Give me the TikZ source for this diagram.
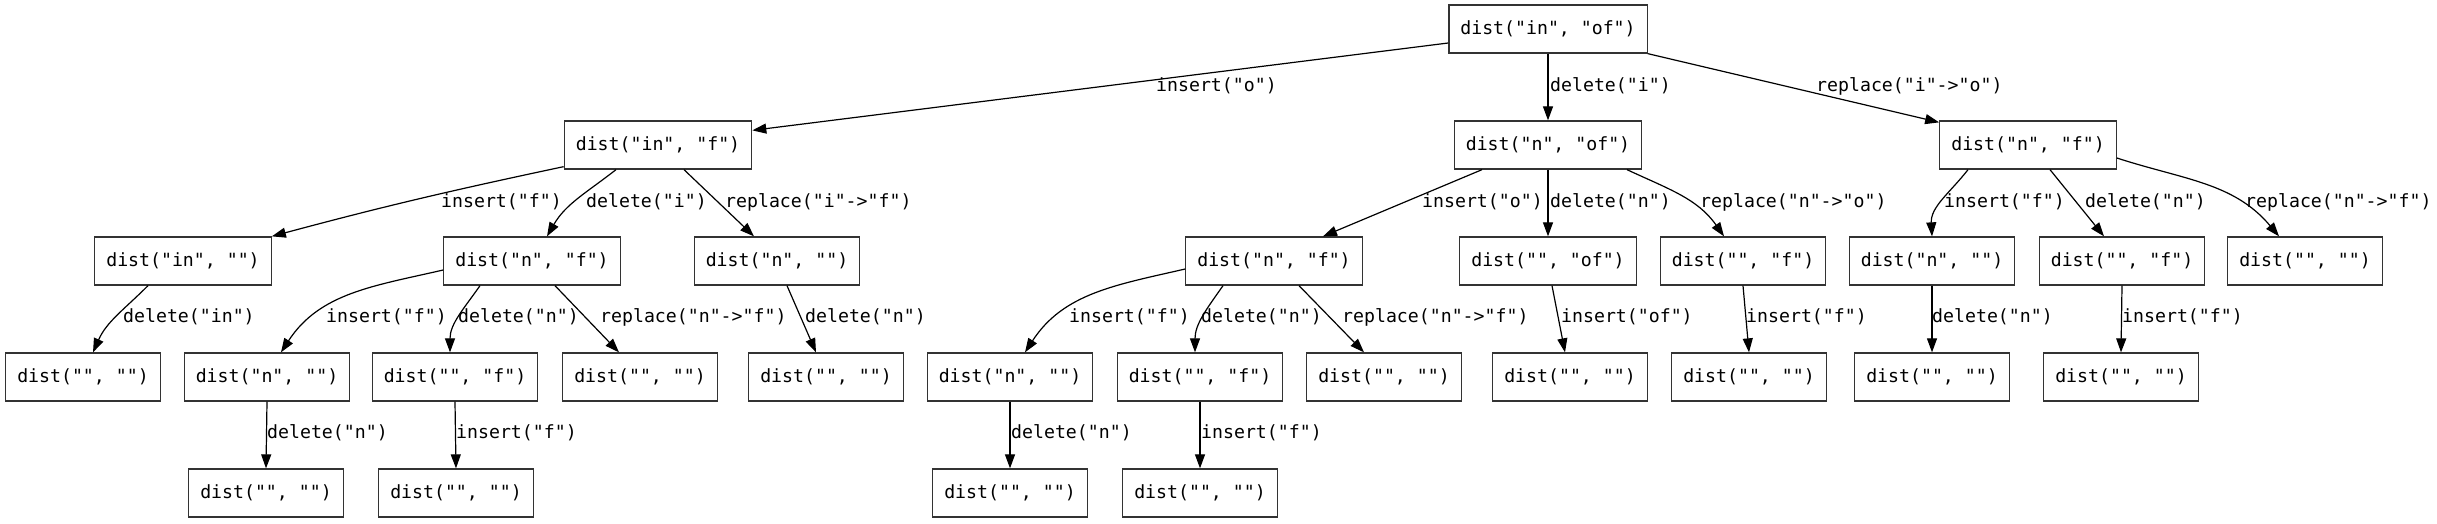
\documentclass[tikz,border=0pt]{standalone}
\usepackage{fontspec}
\setmonofont{DejaVu Sans Mono}
\usetikzlibrary{arrows.meta}
\begin{document}
\begin{tikzpicture}[x=1pt,y=1pt,
  box/.style={draw=black!80, line width=1.3pt, fill=white, font=\ttfamily\fontsize{18.2}{20}\selectfont,
    inner xsep=11.5pt, inner ysep=0pt, minimum height=48pt, text height=13.5pt, text depth=3.5pt},
  lbl/.style={font=\ttfamily\fontsize{18.2}{20}\selectfont, inner sep=0pt, anchor=west, text height=13.5pt, text depth=3.5pt},
  edge/.style={line width=1.2pt, black, -{Triangle[length=14pt,width=10pt]}}]
\useasboundingbox[fill=white] (0,0) rectangle (2437,-523);
% level 0
\node[box] (r) at (1548,-29) {dist("in", "of")};
% level 1
\node[box] (a) at (658,-145) {dist("in", "f")};
\node[box] (b) at (1548,-145) {dist("n", "of")};
\node[box] (c) at (2028,-145) {dist("n", "f")};
% level 2
\node[box] (a1) at (183,-261) {dist("in", "")};
\node[box] (a2) at (532,-261) {dist("n", "f")};
\node[box] (a3) at (777,-261) {dist("n", "")};
\node[box] (b1) at (1274,-261) {dist("n", "f")};
\node[box] (b2) at (1548,-261) {dist("", "of")};
\node[box] (b3) at (1743,-261) {dist("", "f")};
\node[box] (c1) at (1932,-261) {dist("n", "")};
\node[box] (c2) at (2122,-261) {dist("", "f")};
\node[box] (c3) at (2305,-261) {dist("", "")};
% level 3
\node[box] (a11) at (83,-377) {dist("", "")};
\node[box] (a21) at (267,-377) {dist("n", "")};
\node[box] (a22) at (455,-377) {dist("", "f")};
\node[box] (a23) at (640,-377) {dist("", "")};
\node[box] (a31) at (826,-377) {dist("", "")};
\node[box] (b11) at (1010,-377) {dist("n", "")};
\node[box] (b12) at (1200,-377) {dist("", "f")};
\node[box] (b13) at (1384,-377) {dist("", "")};
\node[box] (b21) at (1570,-377) {dist("", "")};
\node[box] (b31) at (1749,-377) {dist("", "")};
\node[box] (c11) at (1932,-377) {dist("", "")};
\node[box] (c21) at (2121,-377) {dist("", "")};
% level 4
\node[box] (a211) at (266,-493) {dist("", "")};
\node[box] (a221) at (456,-493) {dist("", "")};
\node[box] (b111) at (1010,-493) {dist("", "")};
\node[box] (b121) at (1200,-493) {dist("", "")};

% edges from root
\draw[edge] ([yshift=-14pt]r.west) -- ([yshift=-10pt]a.north east);
\draw[edge] (r.south) -- (b.north);
\draw[edge] (r.south east) -- ([yshift=-2pt]c.north west);
% edges from a
\draw[edge] ([yshift=3pt]a.south west) to[out=192,in=15] (a1.north east);
\draw[edge] ([xshift=-42pt]a.south) to[out=218,in=60] ([xshift=15pt]a2.north);
\draw[edge] ([xshift=26pt]a.south) -- ([xshift=-23pt]a3.north);
% edges from b
\draw[edge] ([xshift=-66pt]b.south) -- ([xshift=49pt]b1.north);
\draw[edge] (b.south) -- (b2.north);
\draw[edge] ([xshift=79pt]b.south) to[out=-25,in=125] ([xshift=-19pt]b3.north);
% edges from c
\draw[edge] ([xshift=-60pt]c.south) to[out=232,in=93] (c1.north);
\draw[edge] ([xshift=22pt]c.south) -- ([xshift=-18pt]c2.north);
\draw[edge] ([yshift=-13pt]c.east) to[out=-18,in=130] ([xshift=-26pt]c3.north);
% level 2 -> 3
\draw[edge] ([xshift=-35pt]a1.south) to[out=225,in=66] ([xshift=10pt]a11.north);
\draw[edge] ([yshift=-9pt]a2.west) to[out=193,in=57] ([xshift=14pt]a21.north);
\draw[edge] ([xshift=-52pt]a2.south) to[out=235,in=90] ([xshift=-5pt]a22.north);
\draw[edge] ([xshift=23pt]a2.south) -- ([xshift=-21pt]a23.north);
\draw[edge] ([xshift=10pt]a3.south) -- ([xshift=-10pt]a31.north);
\draw[edge] ([yshift=-8pt]b1.west) to[out=193,in=57] ([xshift=15pt]b11.north);
\draw[edge] ([xshift=-51pt]b1.south) to[out=235,in=90] ([xshift=-5pt]b12.north);
\draw[edge] ([xshift=25pt]b1.south) -- ([xshift=-20pt]b13.north);
\draw[edge] ([xshift=4pt]b2.south) -- ([xshift=-5pt]b21.north);
\draw[edge] (b3.south) -- (b31.north);
\draw[edge] (c1.south) -- (c11.north);
\draw[edge] (c2.south) -- (c21.north);
% level 3 -> 4
\draw[edge] (a21.south) -- (a211.north);
\draw[edge] (a22.south) -- (a221.north);
\draw[edge] (b11.south) -- (b111.north);
\draw[edge] (b12.south) -- (b121.north);

% labels
\node[lbl] (l1) at (1156,-86) {insert("o")};
\node[lbl] (l2) at (1550,-86) {delete("i")};
\node[lbl] (l3) at (1816,-86) {replace("i"->"o")};
\node[lbl] (l4) at (441,-202) {insert("f")};
\node[lbl] (l5) at (586,-202) {delete("i")};
\node[lbl] (l6) at (725,-202) {replace("i"->"f")};
\node[lbl] (l7) at (1422,-202) {insert("o")};
\node[lbl] (l8) at (1550,-202) {delete("n")};
\node[lbl] (l9) at (1700,-202) {replace("n"->"o")};
\node[lbl] (l10) at (1944,-202) {insert("f")};
\node[lbl] (l11) at (2085,-202) {delete("n")};
\node[lbl] (l12) at (2245,-202) {replace("n"->"f")};
\node[lbl] (l13) at (123,-317) {delete("in")};
\node[lbl] (l14) at (326,-317) {insert("f")};
\node[lbl] (l15) at (458,-317) {delete("n")};
\node[lbl] (l16) at (600,-317) {replace("n"->"f")};
\node[lbl] (l17) at (805,-317) {delete("n")};
\node[lbl] (l18) at (1069,-317) {insert("f")};
\node[lbl] (l19) at (1201,-317) {delete("n")};
\node[lbl] (l20) at (1342,-317) {replace("n"->"f")};
\node[lbl] (l21) at (1561,-317) {insert("of")};
\node[lbl] (l22) at (1746,-317) {insert("f")};
\node[lbl] (l23) at (1932,-317) {delete("n")};
\node[lbl] (l24) at (2122,-317) {insert("f")};
\node[lbl] (l25) at (267,-433) {delete("n")};
\node[lbl] (l26) at (456,-433) {insert("f")};
\node[lbl] (l27) at (1011,-433) {delete("n")};
\node[lbl] (l28) at (1201,-433) {insert("f")};
\end{tikzpicture}
\end{document}
